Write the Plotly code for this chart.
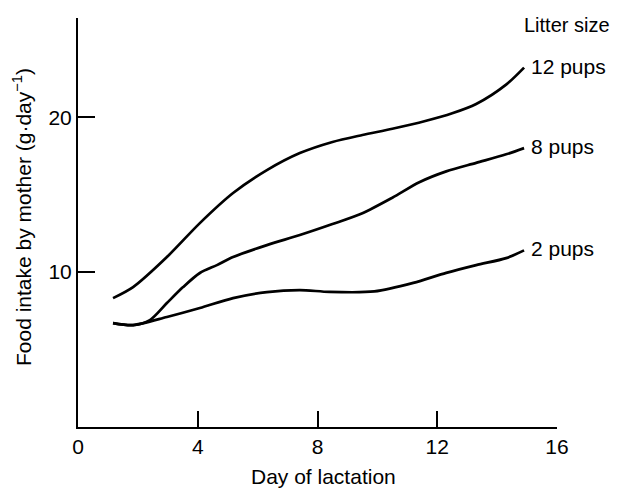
import plotly.graph_objects as go

# ---- data ----
days_12 = [1.17, 1.84, 2.97, 4.07, 5.18, 6.31, 7.41, 8.5, 9.5, 10.5, 11.6, 12.5, 13.3, 14.3, 14.9]
pups_12 = [8.32, 9.03, 10.97, 13.16, 15.1, 16.58, 17.68, 18.4, 18.85, 19.25, 19.75, 20.25, 20.85, 22.1, 23.2]

days_8 = [1.17, 1.84, 2.4, 2.97, 3.51, 4.07, 4.64, 5.18, 6.31, 7.41, 8.5, 9.5, 10.5, 11.4, 12.3, 13.3, 14.3, 14.9]
pups_8 = [6.71, 6.58, 6.9, 8.0, 9.03, 9.94, 10.45, 10.97, 11.74, 12.39, 13.1, 13.8, 14.8, 15.8, 16.5, 17.05, 17.6, 18.0]

days_2 = [1.17, 1.84, 2.97, 4.07, 5.18, 6.31, 7.41, 8.4, 9.9, 11.2, 12.3, 13.3, 14.3, 14.9]
pups_2 = [6.71, 6.58, 7.1, 7.68, 8.32, 8.71, 8.84, 8.72, 8.75, 9.3, 9.95, 10.45, 10.9, 11.4]

series_labels = ["12 pups", "8 pups", "2 pups"]
legend_title = "Litter size"
x_ticks = [0, 4, 8, 12, 16]
y_ticks = [10, 20]
x_title = "Day of lactation"
y_title = "Food intake by mother (g\u00b7day<sup>\u22121</sup>)"

FONT = "Liberation Sans, Arial, Helvetica, sans-serif"
FS = 21

fig = go.Figure()
for xs, ys, name in [(days_12, pups_12, series_labels[0]),
                     (days_8, pups_8, series_labels[1]),
                     (days_2, pups_2, series_labels[2])]:
    fig.add_trace(go.Scatter(x=xs, y=ys, mode="lines", name=name,
                             line=dict(color="black", width=2.7, shape="spline", smoothing=0.8),
                             showlegend=False, hoverinfo="skip"))
    fig.add_annotation(x=15.05, y=ys[-1] + 0.1, xref="x", yref="y", text=name,
                       showarrow=False, xanchor="left", yanchor="middle",
                       font=dict(family=FONT, size=FS, color="black"))

fig.add_annotation(x=1.1148, y=0.983, xref="paper", yref="paper", text=legend_title,
                   showarrow=False, xanchor="right", yanchor="middle",
                   font=dict(family=FONT, size=20, color="black"))

fig.add_annotation(x=0.5115, y=-0.12, xref="paper", yref="paper", text=x_title,
                   showarrow=False, xanchor="center", yanchor="middle",
                   font=dict(family=FONT, size=FS, color="black"))
fig.add_annotation(x=-0.1169, y=0.5134, xref="paper", yref="paper", text=y_title,
                   showarrow=False, xanchor="center", yanchor="middle", textangle=-90,
                   font=dict(family=FONT, size=FS, color="black"))

# page body has an 8px default margin, so the figure is offset to line up with the window
fig.update_layout(
    width=605, height=481,
    margin=dict(l=70, r=56, t=10, b=62),
    paper_bgcolor="white", plot_bgcolor="white",
    font=dict(family=FONT, size=FS, color="black"),
    xaxis=dict(range=[0, 16], tickvals=x_ticks, ticks="inside", ticklen=16, tickwidth=2,
               tickcolor="black", showline=True, linecolor="black", linewidth=2,
               showgrid=False, zeroline=False, fixedrange=True,
               tickfont=dict(family=FONT, size=FS, color="black")),
    yaxis=dict(range=[0, 26.4], tickvals=y_ticks, ticks="inside", ticklen=17, tickwidth=2,
               tickcolor="black", showline=True, linecolor="black", linewidth=2,
               showgrid=False, zeroline=False, fixedrange=True,
               tickfont=dict(family=FONT, size=FS, color="black")),
)

fig.write_html("out.html")
